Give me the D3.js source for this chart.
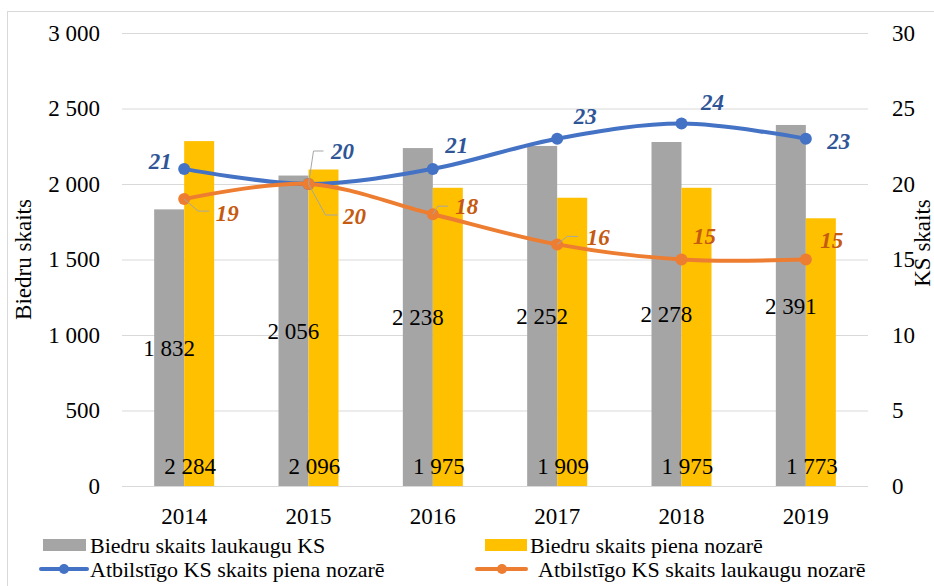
<html>
<head>
	<meta charset="utf-8">
	<title>Biedru skaits un KS skaits</title>
	<script src="https://cdnjs.cloudflare.com/ajax/libs/d3/7.8.5/d3.min.js"></script>
</head>
<body style="margin:0">
<svg id="chart" width="934" height="586" style="font-family:'Liberation Serif'; font-size:23px"></svg>
<script>
	// data
	var years = ["2014", "2015", "2016", "2017", "2018", "2019"];
	var biedruLaukaugu = [1832, 2056, 2238, 2252, 2278, 2391];
	var biedruPiena = [2284, 2096, 1975, 1909, 1975, 1773];
	var ksPiena = [21, 20, 21, 23, 24, 23];
	var ksLaukaugu = [19, 20, 18, 16, 15, 15];
	var leftTicks = [0, 500, 1000, 1500, 2000, 2500, 3000];
	var rightTicks = [0, 5, 10, 15, 20, 25, 30];

	// where the line labels sit relative to their point (as in the picture)
	var blueLabelOffsets = [[-24, -8], [34, -33], [24, -24], [28, -23], [31, -22], [33, 2]];
	var orangeLabelOffsets = [[43, 14], [46, 32], [34, -8], [41, -7], [23, -24], [26, -20]];
	// leader lines (null = no leader)
	var blueLeaders = [null, [[5, -33], [15, -33]], null, null, null, null];
	var orangeLeaders = [[[14, 12], [25, 12]], [[17, 31], [29, 31]], [[5, -8], [15, -8]], [[10, -8], [21, -8]], null, null];

	var svg = d3.select("#chart");
	var margin = {left: 122, right: 66, top: 33, bottom: 100};
	var width = 934 - margin.left - margin.right,
		height = 586 - margin.top - margin.bottom;

	var fmt = function (d) { return d3.format(",")(d).replace(/,/g, " "); };

	// chart border
	svg.append("rect")
		.attr("x", 7.5).attr("y", 11.5)
		.attr("width", 940).attr("height", 600)
		.attr("fill", "none").attr("stroke", "#d9d9d9");

	var g = svg.append("g").attr("transform", "translate(" + margin.left + "," + margin.top + ")");

	var x0 = d3.scaleBand().domain(years).range([0, width]).padding(0);
	var bw = x0.bandwidth();
	var x1 = d3.scaleBand().domain(["gray", "yellow"]).range([bw / 2 - 30, bw / 2 + 30]);
	var y = d3.scaleLinear().domain([0, 3000]).range([height, 0]);
	var y2 = d3.scaleLinear().domain([0, 30]).range([height, 0]);

	// gridlines
	g.append("g")
		.selectAll("line").data(leftTicks).enter().append("line")
		.attr("x1", 0).attr("x2", width)
		.attr("y1", function (d) { return y(d) + 0.5; })
		.attr("y2", function (d) { return y(d) + 0.5; })
		.attr("stroke", "#d9d9d9");

	// axes, without d3's own font settings
	function plainAxis(sel) {
		sel.select(".domain").remove();
		sel.attr("font-family", null).attr("font-size", null);
		sel.selectAll("text").attr("fill", "#000");
	}

	g.append("g")
		.call(d3.axisLeft(y).tickValues(leftTicks).tickFormat(fmt).tickSize(0).tickPadding(22))
		.call(plainAxis);

	g.append("g").attr("transform", "translate(" + width + ",0)")
		.call(d3.axisRight(y2).tickValues(rightTicks).tickSize(0).tickPadding(24))
		.call(plainAxis);

	g.append("g").attr("transform", "translate(0," + height + ")")
		.call(d3.axisBottom(x0).tickSize(0).tickPadding(22))
		.call(plainAxis);

	// bars
	var cat = g.selectAll(".cat").data(years).enter().append("g")
		.attr("class", "cat")
		.attr("transform", function (d) { return "translate(" + x0(d) + ",0)"; });

	cat.append("rect")
		.attr("x", x1("gray"))
		.attr("width", x1.bandwidth())
		.attr("y", function (d, i) { return y(biedruLaukaugu[i]); })
		.attr("height", function (d, i) { return height - y(biedruLaukaugu[i]); })
		.attr("fill", "#a5a5a5");

	cat.append("rect")
		.attr("x", x1("yellow"))
		.attr("width", x1.bandwidth())
		.attr("y", function (d, i) { return y(biedruPiena[i]); })
		.attr("height", function (d, i) { return height - y(biedruPiena[i]); })
		.attr("fill", "#ffc000");

	// zero line
	g.append("line")
		.attr("x1", 0).attr("x2", width)
		.attr("y1", height + 0.5).attr("y2", height + 0.5)
		.attr("stroke", "#d9d9d9");

	// bar labels
	cat.append("text")
		.attr("x", x1("gray") + x1.bandwidth() / 2)
		.attr("y", function (d, i) { return y(biedruLaukaugu[i] / 2); })
		.attr("dy", "0.35em")
		.attr("text-anchor", "middle")
		.text(function (d, i) { return fmt(biedruLaukaugu[i]); });

	cat.append("text")
		.attr("x", bw / 2 + 6)
		.attr("y", height - 12)
		.attr("text-anchor", "middle")
		.text(function (d, i) { return fmt(biedruPiena[i]); });

	// lines
	var cx = function (i) { return x0(years[i]) + bw / 2; };
	var line = d3.line().curve(d3.curveCatmullRom.alpha(0.5))
		.x(function (d, i) { return cx(i); })
		.y(function (d) { return y2(d); });

	function drawSeries(vals, color) {
		g.append("path")
			.attr("d", line(vals))
			.attr("fill", "none")
			.attr("stroke", color)
			.attr("stroke-width", 4)
			.attr("stroke-linecap", "round");
		g.selectAll(null).data(vals).enter().append("circle")
			.attr("cx", function (d, i) { return cx(i); })
			.attr("cy", function (d) { return y2(d); })
			.attr("r", 6)
			.attr("fill", color);
	}

	function drawLabels(vals, labelColor, offsets, leaders) {
		vals.forEach(function (v, i) {
			var px = cx(i), py = y2(v);
			if (leaders[i]) {
				var pts = [[px, py]].concat(leaders[i].map(function (o) { return [px + o[0], py + o[1]]; }));
				g.append("path").attr("d", d3.line()(pts))
					.attr("fill", "none").attr("stroke", "#a6a6a6");
			}
			g.append("text")
				.attr("x", px + offsets[i][0])
				.attr("y", py + offsets[i][1])
				.attr("dy", "0.35em")
				.attr("text-anchor", "middle")
				.attr("fill", labelColor)
				.attr("font-weight", "bold")
				.attr("font-style", "italic")
				.text(v);
		});
	}

	drawSeries(ksPiena, "#4472c4");
	drawSeries(ksLaukaugu, "#ed7d31");
	drawLabels(ksPiena, "#2f5597", blueLabelOffsets, blueLeaders);
	drawLabels(ksLaukaugu, "#c55a11", orangeLabelOffsets, orangeLeaders);

	// axis titles
	svg.append("text")
		.attr("transform", "translate(31," + (margin.top + height / 2) + ") rotate(-90)")
		.attr("text-anchor", "middle")
		.text("Biedru skaits");

	svg.append("text")
		.attr("transform", "translate(930,243) rotate(-90)")
		.attr("text-anchor", "middle")
		.text("KS skaits");

	// legend
	var legend = svg.append("g").attr("font-size", 22);
	legend.append("rect").attr("x", 43).attr("y", 539).attr("width", 43).attr("height", 12).attr("fill", "#a5a5a5");
	legend.append("text").attr("x", 90).attr("y", 553).text("Biedru skaits laukaugu KS");

	legend.append("rect").attr("x", 485).attr("y", 539).attr("width", 42).attr("height", 12).attr("fill", "#ffc000");
	legend.append("text").attr("x", 530).attr("y", 553).text("Biedru skaits piena nozarē");

	legend.append("line").attr("x1", 41).attr("x2", 87).attr("y1", 569).attr("y2", 569)
		.attr("stroke", "#4472c4").attr("stroke-width", 4).attr("stroke-linecap", "round");
	legend.append("circle").attr("cx", 64).attr("cy", 569).attr("r", 5).attr("fill", "#4472c4");
	legend.append("text").attr("x", 90).attr("y", 577).text("Atbilstīgo KS skaits piena nozarē");

	legend.append("line").attr("x1", 477).attr("x2", 526).attr("y1", 569).attr("y2", 569)
		.attr("stroke", "#ed7d31").attr("stroke-width", 4).attr("stroke-linecap", "round");
	legend.append("circle").attr("cx", 502).attr("cy", 569).attr("r", 5).attr("fill", "#ed7d31");
	legend.append("text").attr("x", 538).attr("y", 577).text("Atbilstīgo KS skaits laukaugu nozarē");
</script>
</body>
</html>
